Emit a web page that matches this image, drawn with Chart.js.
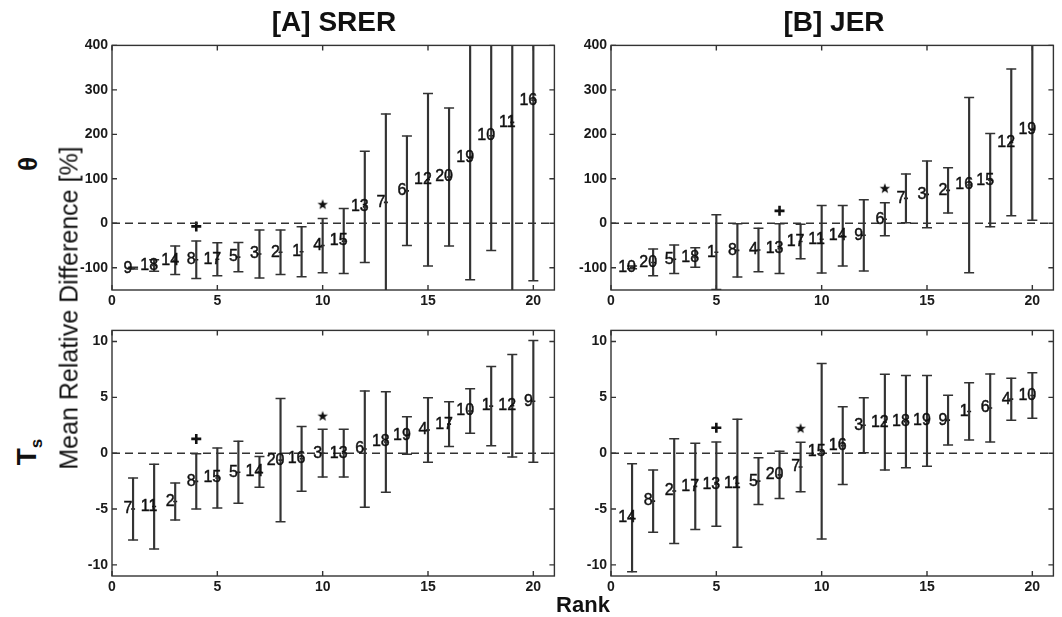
<!DOCTYPE html>
<html lang="en">
<head>
<meta charset="UTF-8">
<title>Mean Relative Difference by Rank</title>
<script src="https://cdn.jsdelivr.net/npm/chart.js"></script>
<style>
  body { margin: 0; background: #fff; }
  #wrap { position: relative; width: 1062px; height: 617px; overflow: hidden; font-family: "Liberation Sans", Arial, sans-serif; color: #111; }
  canvas { position: absolute; }
  .txt { position: absolute; white-space: nowrap; transform: translate(-50%, -50%); }
  .rot { transform: translate(-50%, -50%) rotate(-90deg); }
</style>
</head>
<body>
<div id="wrap">
  <canvas id="srerTheta" width="502" height="279" style="left:60px;top:33px"></canvas>
  <canvas id="jerTheta" width="502" height="279" style="left:559px;top:33px"></canvas>
  <canvas id="srerTs" width="502" height="280" style="left:60px;top:318px"></canvas>
  <canvas id="jerTs" width="502" height="280" style="left:559px;top:318px"></canvas>

  <div class="txt" style="left:334px;top:22px;font-size:28px;font-weight:bold">[A] SRER</div>
  <div class="txt" style="left:834px;top:22px;font-size:28px;font-weight:bold">[B] JER</div>
  <div class="txt rot" style="left:28px;top:164px;font-size:26px;font-weight:bold">&theta;</div>
  <div class="txt rot" style="left:29px;top:452px;font-size:28px;font-weight:bold">T<sub style="font-size:17px">s</sub></div>
  <div class="txt rot" style="left:69px;top:308px;font-size:25px">Mean Relative Difference [%]</div>
  <div class="txt" style="left:583px;top:605px;font-size:22px;font-weight:bold">Rank</div>
</div>

<script>
  // rank positions on the x axis
  const ranks = [1, 2, 3, 4, 5, 6, 7, 8, 9, 10, 11, 12, 13, 14, 15, 16, 17, 18, 19, 20];
  const xTicks = [0, 5, 10, 15, 20];
  const thetaTicks = [-100, 0, 100, 200, 300, 400];
  const tsTicks = [-10, -5, 0, 5, 10];

  // [A] SRER, theta
  const srerThetaIds  = [9, 18, 14, 8, 17, 5, 3, 2, 1, 4, 15, 13, 7, 6, 12, 20, 19, 10, 11, 16];
  const srerThetaMean = [-101, -95, -83, -82, -81, -76, -69, -65, -64, -50, -40, 37, 47, 73, 98, 104, 147, 197, 227, 277];
  const srerThetaErr  = [2, 13, 32, 42, 37, 33, 54, 50, 56, 61, 73, 125, 199, 123, 194, 155, 274, 258, 420, 406];
  const srerThetaPlus = [4, -7];
  const srerThetaStar = [10, 43];

  // [B] JER, theta
  const jerThetaIds  = [10, 20, 5, 18, 1, 8, 4, 13, 17, 11, 14, 9, 6, 7, 3, 2, 16, 15, 12, 19];
  const jerThetaMean = [-99, -88, -81, -77, -65, -61, -60, -57, -41, -36, -28, -27, 9, 56, 65, 74, 86, 97, 182, 210];
  const jerThetaErr  = [3, 30, 32, 22, 84, 60, 49, 56, 39, 76, 68, 80, 37, 55, 75, 51, 197, 105, 165, 203];
  const jerThetaPlus = [8, 28];
  const jerThetaStar = [13, 79];

  // [A] SRER, Ts
  const srerTsIds  = [7, 11, 2, 8, 15, 5, 14, 20, 16, 3, 13, 6, 18, 19, 4, 17, 10, 1, 12, 9];
  const srerTsMean = [-5.0, -4.78, -4.33, -2.52, -2.22, -1.7, -1.67, -0.62, -0.5, 0, 0, 0.37, 1.0, 1.58, 2.08, 2.6, 3.78, 4.22, 4.25, 4.65];
  const srerTsErr  = [2.77, 3.8, 1.66, 2.47, 2.68, 2.78, 1.37, 5.52, 2.9, 2.14, 2.14, 5.21, 4.5, 1.68, 2.88, 2.0, 2.0, 3.55, 4.6, 5.45];
  const srerTsPlus = [4, 1.28];
  const srerTsStar = [10, 3.35];

  // [B] JER, Ts
  const jerTsIds  = [14, 8, 2, 17, 13, 11, 5, 20, 7, 15, 16, 3, 12, 18, 19, 9, 1, 6, 4, 10];
  const jerTsMean = [-5.79, -4.29, -3.39, -2.97, -2.77, -2.69, -2.5, -1.94, -1.24, 0.17, 0.68, 2.5, 2.78, 2.83, 2.89, 2.96, 3.74, 4.05, 4.84, 5.17];
  const jerTsErr  = [4.84, 2.78, 4.69, 3.86, 3.77, 5.74, 2.09, 2.12, 2.22, 7.86, 3.49, 2.47, 4.29, 4.13, 4.07, 2.22, 2.56, 3.05, 1.88, 2.03];
  const jerTsPlus = [5, 2.28];
  const jerTsStar = [9, 2.25];

  const FONT = '"Liberation Sans", Arial, sans-serif';
  const INK = '#1a1a1a';

  // small filled star used as a point style
  const starImg = document.createElement('canvas');
  starImg.width = 12; starImg.height = 12;
  (function () {
    const c = starImg.getContext('2d');
    c.fillStyle = '#111';
    c.beginPath();
    for (let k = 0; k < 10; k++) {
      const r = k % 2 ? 2.3 : 5.5;
      const a = -Math.PI / 2 + k * Math.PI / 5;
      c.lineTo(6 + r * Math.cos(a), 6.5 + r * Math.sin(a));
    }
    c.closePath();
    c.fill();
  })();

  // box around the plot area with inward tick marks, like the original figure
  const framePlugin = {
    id: 'frame',
    afterDraw(chart) {
      const { ctx, chartArea: a, scales: { x, y } } = chart;
      ctx.save();
      ctx.strokeStyle = '#333';
      ctx.lineWidth = 1.4;
      ctx.strokeRect(a.left, a.top, a.right - a.left, a.bottom - a.top);
      ctx.beginPath();
      x.ticks.forEach(t => {
        const px = x.getPixelForValue(t.value);
        ctx.moveTo(px, a.bottom); ctx.lineTo(px, a.bottom - 5);
        ctx.moveTo(px, a.top); ctx.lineTo(px, a.top + 5);
      });
      y.ticks.forEach(t => {
        const py = y.getPixelForValue(t.value);
        ctx.moveTo(a.left, py); ctx.lineTo(a.left + 5, py);
        ctx.moveTo(a.right, py); ctx.lineTo(a.right - 5, py);
      });
      ctx.stroke();
      ctx.restore();
    }
  };

  function makePanel(id, ids, mean, err, plus, star, yMin, yMax, yTicks) {
    const lo = mean.map((m, i) => m - err[i]);
    const hi = mean.map((m, i) => m + err[i]);

    const labelPlugin = {
      id: 'modelLabels',
      afterDatasetsDraw(chart) {
        const { ctx, scales: { x, y } } = chart;
        ctx.save();
        ctx.font = '16px ' + FONT;
        ctx.fillStyle = '#111';
        ctx.strokeStyle = '#111';
        ctx.lineWidth = 0.45;
        ctx.textAlign = 'center';
        ctx.textBaseline = 'middle';
        ids.forEach((n, i) => {
          const px = x.getPixelForValue(ranks[i]) - 5;
          const py = y.getPixelForValue(mean[i]);
          ctx.fillText(String(n), px, py);
          ctx.strokeText(String(n), px, py);
        });
        ctx.restore();
      }
    };

    new Chart(document.getElementById(id), {
      type: 'bar',
      data: {
        datasets: [
          {
            type: 'line',
            data: [{ x: 0, y: 0 }, { x: 21, y: 0 }],
            borderColor: '#333', borderWidth: 1.4, borderDash: [8, 5], pointRadius: 0
          },
          {
            type: 'bar',
            data: ranks.map((r, i) => ({ x: r, y: [lo[i], hi[i]] })),
            backgroundColor: '#333', barThickness: 1.5
          },
          {
            type: 'scatter',
            data: ranks.map((r, i) => ({ x: r, y: lo[i] })).concat(ranks.map((r, i) => ({ x: r, y: hi[i] }))),
            pointStyle: 'line', radius: 5, borderColor: '#333', borderWidth: 1.5
          },
          {
            type: 'scatter',
            data: ranks.map((r, i) => ({ x: r, y: mean[i] })),
            pointStyle: 'line', radius: 2, borderColor: '#111', borderWidth: 1.6
          },
          {
            type: 'scatter',
            data: [{ x: plus[0], y: plus[1] }],
            pointStyle: 'cross', radius: 5, borderColor: '#111', borderWidth: 2.6
          },
          {
            type: 'scatter',
            data: [{ x: star[0], y: star[1] }],
            pointStyle: starImg, radius: 6
          }
        ]
      },
      options: {
        responsive: false,
        animation: false,
        events: [],
        layout: { padding: { top: 10, right: 5, left: 0, bottom: 0 } },
        plugins: { legend: { display: false }, tooltip: { enabled: false } },
        scales: {
          x: {
            type: 'linear', min: 0, max: 21, offset: false,
            grid: { display: false, drawTicks: false },
            border: { display: false },
            afterBuildTicks: s => { s.ticks = xTicks.map(v => ({ value: v })); },
            afterFit: s => { s.height = 22; },
            ticks: { font: { size: 14, weight: 'bold', family: FONT }, color: INK, padding: 3, maxRotation: 0, autoSkip: false }
          },
          y: {
            min: yMin, max: yMax,
            grid: { display: false, drawTicks: false },
            border: { display: false },
            afterBuildTicks: s => { s.ticks = yTicks.map(v => ({ value: v })); },
            afterFit: s => { s.width = 52; },
            ticks: { font: { size: 14, weight: 'bold', family: FONT }, color: INK, padding: 4 }
          }
        }
      },
      plugins: [labelPlugin, framePlugin]
    });
  }

  makePanel('srerTheta', srerThetaIds, srerThetaMean, srerThetaErr, srerThetaPlus, srerThetaStar, -150, 400, thetaTicks);
  makePanel('jerTheta', jerThetaIds, jerThetaMean, jerThetaErr, jerThetaPlus, jerThetaStar, -150, 400, thetaTicks);
  makePanel('srerTs', srerTsIds, srerTsMean, srerTsErr, srerTsPlus, srerTsStar, -11, 11, tsTicks);
  makePanel('jerTs', jerTsIds, jerTsMean, jerTsErr, jerTsPlus, jerTsStar, -11, 11, tsTicks);
</script>
</body>
</html>
